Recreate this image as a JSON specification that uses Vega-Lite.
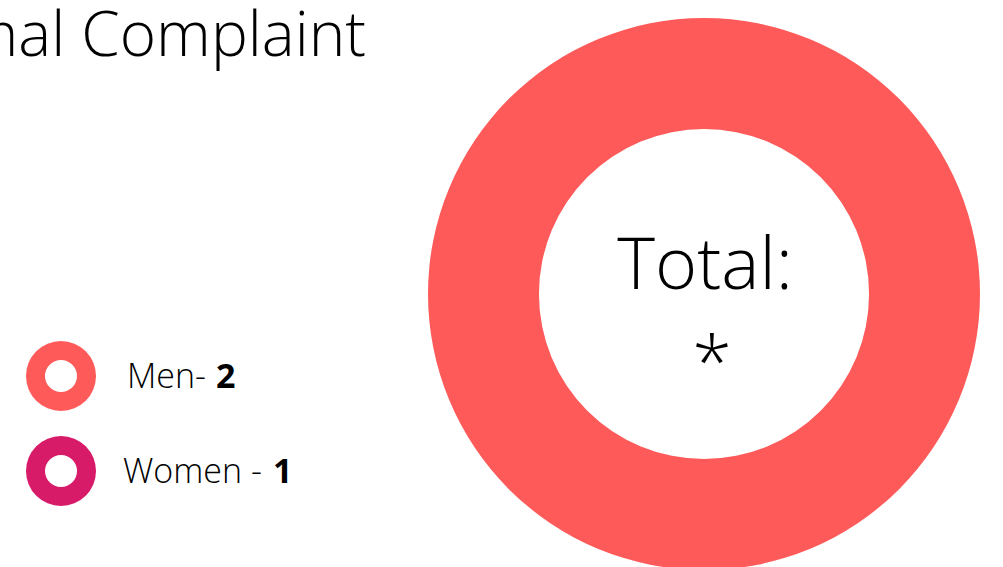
{
  "$schema": "https://vega.github.io/schema/vega-lite/v6.json",
  "width": 1003,
  "height": 567,
  "autosize": {"type": "none"},
  "padding": 0,
  "background": "white",
  "config": {"view": {"stroke": null}, "font": "Open Sans"},
  "data": {"values": [
    {"gender": "Men", "label": "Men-", "count": 2},
    {"gender": "Women", "label": "Women -", "count": 1}
  ]},
  "encoding": {
    "x": {"type": "quantitative", "scale": {"domain": [0, 1003], "nice": false, "zero": false}, "axis": null},
    "y": {"type": "quantitative", "scale": {"domain": [0, 567], "nice": false, "zero": false, "reverse": true}, "axis": null}
  },
  "resolve": {"scale": {"theta": "independent"}},
  "layer": [
    {
      "mark": {"type": "arc", "radius": 276, "radius2": 165, "color": "#FF5A5A"},
      "encoding": {
        "theta": {"aggregate": "sum", "field": "count", "type": "quantitative"},
        "x": {"datum": 704, "type": "quantitative"},
        "y": {"datum": 294, "type": "quantitative"}
      }
    },
    {
      "transform": [{"filter": "datum.gender === 'Men'"}],
      "mark": {"type": "arc", "radius": 35, "radius2": 16, "color": "#FF5A5A"},
      "encoding": {
        "theta": {"field": "count", "type": "quantitative"},
        "x": {"datum": 61, "type": "quantitative"},
        "y": {"datum": 376, "type": "quantitative"}
      }
    },
    {
      "transform": [{"filter": "datum.gender === 'Women'"}],
      "mark": {"type": "arc", "radius": 35, "radius2": 16, "color": "#D81B69"},
      "encoding": {
        "theta": {"field": "count", "type": "quantitative"},
        "x": {"datum": 61, "type": "quantitative"},
        "y": {"datum": 471, "type": "quantitative"}
      }
    },
    {
      "transform": [{"filter": "datum.gender === 'Men'"}],
      "mark": {"type": "text", "align": "left", "baseline": "alphabetic", "fontSize": 34, "fontWeight": 300, "color": "black"},
      "encoding": {
        "text": {"field": "label"},
        "x": {"datum": 127, "type": "quantitative"},
        "y": {"datum": 388, "type": "quantitative"}
      }
    },
    {
      "transform": [{"filter": "datum.gender === 'Men'"}],
      "mark": {"type": "text", "align": "left", "baseline": "alphabetic", "fontSize": 34, "fontWeight": "bold", "color": "black"},
      "encoding": {
        "text": {"field": "count"},
        "x": {"datum": 216, "type": "quantitative"},
        "y": {"datum": 388, "type": "quantitative"}
      }
    },
    {
      "transform": [{"filter": "datum.gender === 'Women'"}],
      "mark": {"type": "text", "align": "left", "baseline": "alphabetic", "fontSize": 34, "fontWeight": 300, "color": "black"},
      "encoding": {
        "text": {"field": "label"},
        "x": {"datum": 123, "type": "quantitative"},
        "y": {"datum": 483, "type": "quantitative"}
      }
    },
    {
      "transform": [{"filter": "datum.gender === 'Women'"}],
      "mark": {"type": "text", "align": "left", "baseline": "alphabetic", "fontSize": 34, "fontWeight": "bold", "color": "black"},
      "encoding": {
        "text": {"field": "count"},
        "x": {"datum": 273, "type": "quantitative"},
        "y": {"datum": 483, "type": "quantitative"}
      }
    },
    {
      "transform": [{"filter": "datum.gender === 'Men'"}],
      "mark": {"type": "text", "align": "right", "baseline": "alphabetic", "fontSize": 62, "fontWeight": 300, "color": "black", "text": "Formal Complaint"},
      "encoding": {
        "x": {"datum": 366, "type": "quantitative"},
        "y": {"datum": 56, "type": "quantitative"}
      }
    },
    {
      "transform": [{"filter": "datum.gender === 'Men'"}],
      "mark": {"type": "text", "align": "center", "baseline": "alphabetic", "fontSize": 72, "fontWeight": 300, "color": "black", "text": "Total:"},
      "encoding": {
        "x": {"datum": 705, "type": "quantitative"},
        "y": {"datum": 289, "type": "quantitative"}
      }
    },
    {
      "transform": [{"filter": "datum.gender === 'Men'"}],
      "mark": {"type": "text", "align": "center", "baseline": "alphabetic", "fontSize": 72, "fontWeight": 300, "color": "black", "text": "*"},
      "encoding": {
        "x": {"datum": 712, "type": "quantitative"},
        "y": {"datum": 388, "type": "quantitative"}
      }
    }
  ]
}
